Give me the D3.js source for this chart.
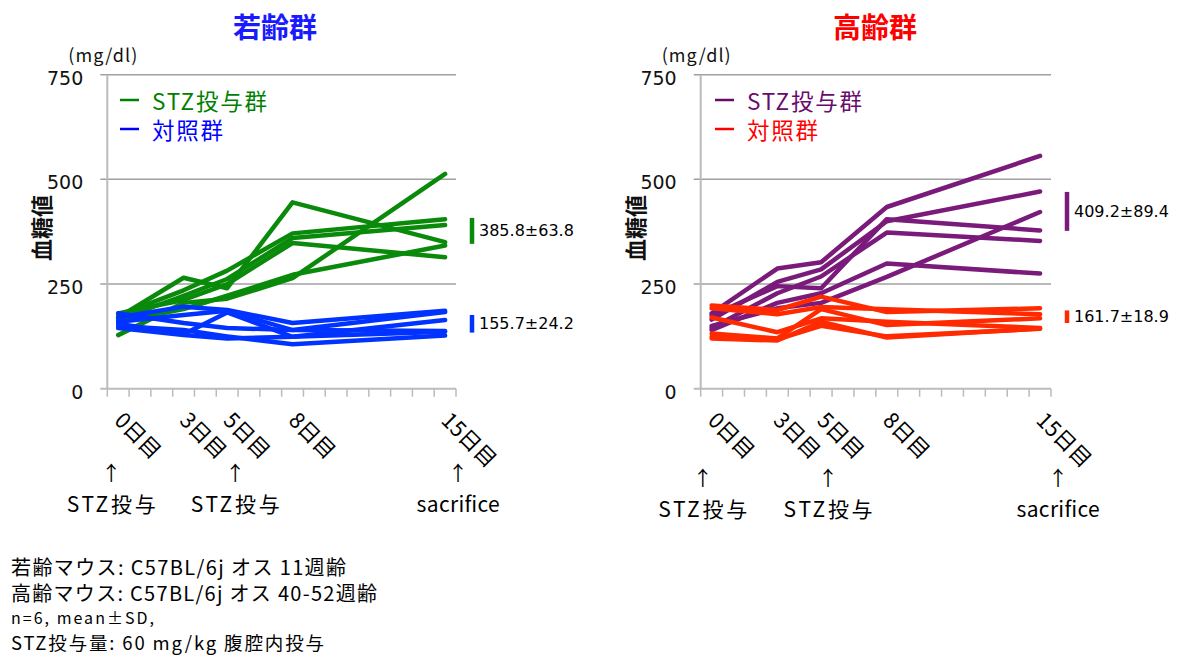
<!DOCTYPE html>
<html>
<head>
<meta charset="utf-8">
<script src="https://cdn.jsdelivr.net/npm/d3@7"></script>
<style>
  body { margin: 0; background: #fff; }
  text { font-family: "Noto Sans CJK JP", "Noto Sans", sans-serif; }
  .num { font-family: "DejaVu Sans", "Noto Sans CJK JP", sans-serif; }
</style>
</head>
<body>
<svg id="chart" width="1189" height="657"></svg>
<script>
// ---- data -------------------------------------------------------------
const days = d3.range(0, 16);                 // category slots 0..15 days
const sampleDays = [0, 3, 5, 8, 15];          // days with measurements
const dayLabels = ['0日目', '3日目', '5日目', '8日目', '15日目'];
const yTicks = [0, 250, 500, 750];

// young mice (blood glucose, mg/dl), one row per animal
const youngSTZ = [
  [170, 265, 240, 445, 350],
  [175, 235, 282, 371, 405],
  [165, 222, 262, 360, 391],
  [180, 212, 250, 348, 314],
  [128, 205, 215, 264, 513],
  [160, 190, 222, 272, 342]
];
const youngCtrl = [
  [170, 196, 188, 157, 186],
  [160, 176, 186, 140, 183],
  [155, 130, 182, 124, 164],
  [180, 157, 145, 140, 138],
  [150, 140, 125, 106, 127],
  [145, 128, 120, 124, 136]
];
// aged mice
const agedSTZ = [
  [180, 287, 302, 434, 556],
  [165, 255, 285, 400, 471],
  [175, 245, 240, 405, 378],
  [145, 228, 268, 373, 353],
  [140, 205, 228, 299, 275],
  [150, 192, 205, 267, 422]
];
const agedCtrl = [
  [199, 188, 220, 183, 192],
  [192, 178, 195, 190, 178],
  [170, 135, 168, 160, 145],
  [132, 120, 190, 152, 168],
  [124, 118, 150, 125, 143],
  [120, 115, 160, 122, 144]
];

// day-15 summary labels and the bracket range drawn beside them
const youngStats = ['385.8±63.8', '155.7±24.2'];
const youngBrackets = [[346, 408], [134, 176]];
const agedStats = ['409.2±89.4', '161.7±18.9'];
const agedBrackets = [[377, 470], [157, 187]];

const annotationDays = [0, 5, 15];
const annotationTexts = ['STZ投与', 'STZ投与', 'sacrifice'];

const legendTexts = ['STZ投与群', '対照群'];
const notes = [
  '若齢マウス: C57BL/6j オス 11週齢',
  '高齢マウス: C57BL/6j オス 40-52週齢',
  'n=6, mean±SD,',
  'STZ投与量: 60 mg/kg  腹腔内投与'
];

// ---- layout -----------------------------------------------------------
const svg = d3.select('#chart');
const plotTop = 74.7, plotBottom = 388.7;

const panels = [
  {
    title: '若齢群', titleColor: '#1a1aff', titleX: 275,
    left: 107.3, right: 456,
    stz: youngSTZ, ctrl: youngCtrl,
    lineColors: ['#0a8a0a', '#0033ff'],
    legendColors: ['#008000', '#0000ff'],
    stats: youngStats, brackets: youngBrackets,
    legendX: 120, annOffsets: [-7, 8, 13], annY: 0
  },
  {
    title: '高齢群', titleColor: '#ff0000', titleX: 875,
    left: 700.7, right: 1051,
    stz: agedSTZ, ctrl: agedCtrl,
    lineColors: ['#7a1a7a', '#ff2a00'],
    legendColors: ['#6a0a6a', '#ff0000'],
    stats: agedStats, brackets: agedBrackets,
    legendX: 715, annOffsets: [-9, 7, 18], annY: 5
  }
];

const y = d3.scaleLinear().domain([0, 750]).range([plotBottom, plotTop]);

panels.forEach(p => {
  const g = svg.append('g');
  const x = d3.scaleBand().domain(days).range([p.left, p.right]).padding(0);
  const cx = d => x(d) + x.bandwidth() / 2;

  // title
  g.append('text').attr('x', p.titleX).attr('y', 26)
    .attr('text-anchor', 'middle').attr('dominant-baseline', 'central')
    .attr('font-size', 28).attr('font-weight', 'bold')
    .attr('fill', p.titleColor).text(p.title);

  // unit
  g.append('text').attr('x', p.left - 39).attr('y', 54)
    .attr('dominant-baseline', 'central')
    .attr('font-size', 18).attr('fill', '#111')
    .attr('textLength', 69).attr('lengthAdjust', 'spacing').text('(mg/dl)');

  // y axis title
  g.append('text')
    .attr('transform', `translate(${p.left - 67},228) rotate(-90)`)
    .attr('text-anchor', 'middle').attr('dominant-baseline', 'central')
    .attr('font-size', 22).attr('font-weight', 'bold').attr('fill', '#111')
    .text('血糖値');

  // horizontal gridlines + tick marks
  g.selectAll('.grid').data(yTicks.filter(t => t > 0)).enter().append('line')
    .attr('x1', p.left - 7).attr('x2', p.right)
    .attr('y1', d => y(d)).attr('y2', d => y(d))
    .attr('stroke', '#a0a0a0').attr('stroke-width', 1.5);

  // y tick labels
  g.selectAll('.yl').data(yTicks).enter().append('text')
    .attr('class', 'num')
    .attr('x', p.left - 24).attr('y', d => y(d) + 3)
    .attr('text-anchor', 'end').attr('dominant-baseline', 'central')
    .attr('font-size', 19).attr('fill', '#111').text(d => d);

  // y axis line
  g.append('line').attr('x1', p.left).attr('x2', p.left)
    .attr('y1', plotTop).attr('y2', plotBottom)
    .attr('stroke', '#bbbbbb').attr('stroke-width', 2);

  // x axis line with ticks at category boundaries
  g.append('line').attr('x1', p.left - 7).attr('x2', p.right)
    .attr('y1', plotBottom).attr('y2', plotBottom)
    .attr('stroke', '#bbbbbb').attr('stroke-width', 2);
  const bounds = days.map(d => x(d)).concat([x.range()[1]]);
  g.selectAll('.xt').data(bounds).enter().append('line')
    .attr('x1', d => d).attr('x2', d => d)
    .attr('y1', plotBottom).attr('y2', plotBottom + 8)
    .attr('stroke', '#bbbbbb').attr('stroke-width', 1.5);

  // x labels (rotated)
  g.selectAll('.xl').data(sampleDays).enter().append('text')
    .attr('transform', d => `translate(${cx(d) - 5},${plotBottom + 33}) rotate(45)`)
    .attr('font-size', 21.5).attr('fill', '#000')
    .text((d, i) => dayLabels[i]);

  // lines
  const line = d3.line().x((v, i) => cx(sampleDays[i])).y(v => y(v));
  [p.stz, p.ctrl].forEach((grp, gi) => {
    g.selectAll(null).data(grp).enter().append('path')
      .attr('d', line).attr('fill', 'none')
      .attr('stroke', p.lineColors[gi]).attr('stroke-width', 4.5)
      .attr('stroke-linejoin', 'round').attr('stroke-linecap', 'round');
  });

  // legend
  const legendLen = [115, 71];
  legendTexts.forEach((t, i) => {
    const ly = 100 + i * 29;
    g.append('line').attr('x1', p.legendX).attr('x2', p.legendX + 19)
      .attr('y1', ly).attr('y2', ly)
      .attr('stroke', p.legendColors[i]).attr('stroke-width', 2.5);
    g.append('text').attr('x', p.legendX + 32).attr('y', ly)
      .attr('dominant-baseline', 'central')
      .attr('font-size', 22.5).attr('fill', p.legendColors[i])
      .attr('textLength', legendLen[i]).attr('lengthAdjust', 'spacing').text(t);
  });

  // day-15 summary brackets and labels
  p.brackets.forEach((b, i) => {
    const bx = p.right + 16;
    g.append('line').attr('x1', bx).attr('x2', bx)
      .attr('y1', y(b[0])).attr('y2', y(b[1]))
      .attr('stroke', p.lineColors[i]).attr('stroke-width', 4.5);
    g.append('text').attr('class', 'num')
      .attr('x', bx + 7).attr('y', y((b[0] + b[1]) / 2))
      .attr('dominant-baseline', 'central')
      .attr('font-size', 16).attr('fill', '#000').text(p.stats[i]);
  });

  // treatment annotations below the axis
  const annLen = [89, 89, 83];
  annotationDays.forEach((d, i) => {
    const ax = cx(d) + p.annOffsets[i];
    g.append('text').attr('x', ax).attr('y', 472 + p.annY)
      .attr('text-anchor', 'middle').attr('dominant-baseline', 'central')
      .attr('font-size', 20).attr('fill', '#000').text('↑');
    g.append('text').attr('x', ax - annLen[i] / 2).attr('y', 503 + p.annY)
      .attr('dominant-baseline', 'central')
      .attr('font-size', 21).attr('fill', '#000')
      .attr('textLength', annLen[i]).attr('lengthAdjust', 'spacing')
      .text(annotationTexts[i]);
  });
});

// footnotes
const noteY = [566, 592, 617, 642];
const noteSize = [20, 20, 16, 18.5];
const noteLen = [335, 366, 143, 313];
notes.forEach((t, i) => {
  svg.append('text').attr('x', 11).attr('y', noteY[i])
    .attr('dominant-baseline', 'central')
    .attr('font-size', noteSize[i]).attr('fill', '#000')
    .attr('textLength', noteLen[i]).attr('lengthAdjust', 'spacing').text(t);
});
</script>
</body>
</html>
